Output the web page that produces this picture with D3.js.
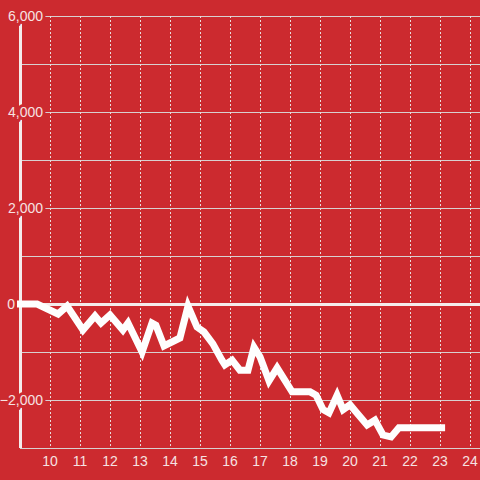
<!DOCTYPE html>
<html>
<head>
<meta charset="utf-8">
<script src="https://cdn.jsdelivr.net/npm/d3@7"></script>
<style>
html,body{margin:0;padding:0;background:#cc2a2f;}
svg{display:block;}
</style>
</head>
<body>
<svg id="chart" width="480" height="480"></svg>
<script>
const xs = [8.9, 9.57, 10.27, 10.57, 11.1, 11.5, 11.7, 12.0, 12.43, 12.6, 13.07, 13.4, 13.53, 13.8, 14.33, 14.6, 14.9, 15.13, 15.43, 15.73, 15.83, 16.07, 16.33, 16.6, 16.8, 17.0, 17.3, 17.57, 18.07, 18.67, 18.87, 19.1, 19.3, 19.57, 19.77, 20.0, 20.23, 20.57, 20.83, 21.1, 21.37, 21.63, 23.17];
const values = [0, 0, -208, -42, -542, -250, -396, -229, -542, -396, -1000, -396, -440, -875, -708, -42, -480, -580, -830, -1170, -1270, -1170, -1380, -1380, -900, -1100, -1600, -1330, -1830, -1830, -1900, -2200, -2270, -1900, -2200, -2100, -2270, -2520, -2420, -2730, -2770, -2580, -2580];
const xTicks = [10, 11, 12, 13, 14, 15, 16, 17, 18, 19, 20, 21, 22, 23, 24];
const yTicks = [-2000, 0, 2000, 4000, 6000];
const yGrid = [-3000, -2000, -1000, 0, 1000, 2000, 3000, 4000, 5000, 6000];

const bg = "#cc2a2f";
const svg = d3.select("#chart");
const x = d3.scaleLinear().domain([9, 24]).range([20, 470]);
const y = d3.scaleLinear().domain([-3000, 6000]).range([448, 16]);

// horizontal grid
svg.append("g").selectAll("line").data(yGrid).join("line")
  .attr("x1", 20).attr("x2", 480)
  .attr("y1", d => Math.round(y(d)) + 0.5).attr("y2", d => Math.round(y(d)) + 0.5)
  .attr("stroke", "#d8d0d0").attr("stroke-width", 1);

// vertical dashed grid
svg.append("g").selectAll("line").data(xTicks).join("line")
  .attr("x1", d => Math.round(x(d)) + 0.5).attr("x2", d => Math.round(x(d)) + 0.5)
  .attr("y1", y(6000)).attr("y2", y(-3000))
  .attr("stroke", "#e8dcdc").attr("stroke-width", 1).attr("stroke-dasharray", "2,2");

// zero line
svg.append("line")
  .attr("x1", 20).attr("x2", 480)
  .attr("y1", y(0) + 0.5).attr("y2", y(0) + 0.5)
  .attr("stroke", "#f4ecec").attr("stroke-width", 3);

// y axis line
svg.append("line")
  .attr("x1", 20.5).attr("x2", 20.5)
  .attr("y1", y(6000)).attr("y2", y(-3000))
  .attr("stroke", "#f4ecec").attr("stroke-width", 3);

// y labels with halo
const fmt = d3.format(",");
svg.append("g").selectAll("text").data(yTicks).join("text")
  .attr("x", d => d === 0 ? 15 : 43).attr("y", d => y(d)).attr("dy", "0.35em")
  .attr("text-anchor", "end")
  .attr("font-family", "Liberation Sans, Arial, sans-serif").attr("font-size", 14)
  .attr("fill", "#f6e2e2")
  .attr("stroke", bg).attr("stroke-width", 6).attr("paint-order", "stroke")
  .text(d => d === 0 ? "0" : fmt(d));

// data line
const line = d3.line().x((d, i) => x(xs[i])).y(d => y(d));
svg.append("path").datum(values)
  .attr("d", line)
  .attr("fill", "none").attr("stroke", "#fefefe").attr("stroke-width", 7)
  .attr("stroke-linejoin", "miter").attr("stroke-linecap", "butt");

// x labels
svg.append("g").selectAll("text").data(xTicks).join("text")
  .attr("x", d => x(d)).attr("y", 461).attr("dy", "0.35em")
  .attr("text-anchor", "middle")
  .attr("font-family", "Liberation Sans, Arial, sans-serif").attr("font-size", 14)
  .attr("fill", "#f6e2e2")
  .text(d => d);
</script>
</body>
</html>
